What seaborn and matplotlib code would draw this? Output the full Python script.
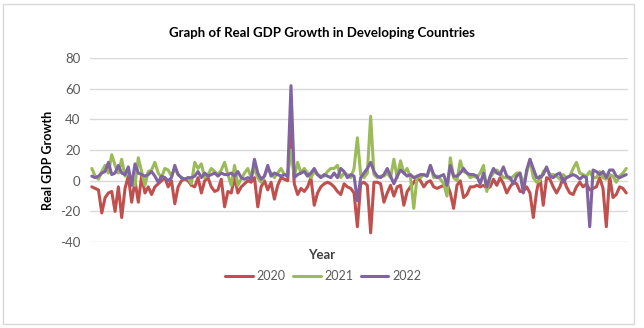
import numpy as np
import pandas as pd
import matplotlib
matplotlib.use("Agg")
import matplotlib.pyplot as plt
import seaborn as sns
from matplotlib.patches import Rectangle

years = ["2020", "2021", "2022"]
colors = ["#C0504D", "#9BBB59", "#8064A2"]
yticks = [-40, -20, 0, 20, 40, 60, 80]

gdp_2020 = [
    -4, -5, -6, -21, -11, -8, -7, -20, -4, -24,
    -5, 3, -14, 0, -14, 3, -8, -4, -9, -4,
    -2, 0, 2, -4, 0, -15, -4, 0, 1, 0,
    -3, -4, 2, -8, 0, 2, -4, -7, -6, 1,
    -17, -7, -8, 2, -8, -4, -2, 0, -1, 2,
    -17, -4, 0, -6, -1, -12, -3, 2, 1, 0,
    33, -2, -9, -5, -7, -4, 2, -16, -8, -4,
    -2, -1, -2, -4, -7, -9, -2, -4, -5, -8,
    -30, -2, -1, -3, -34, -1, -1, -2, -14, -8,
    -3, -10, -4, -3, -16, -7, -4, -1, 2, 0,
    -4, -1, 0, -4, -5,
    -4, -3, -2, -8, -18, -3, 0, -11, -9, -4,
    -4, -3, -4, -3, -5, -4, 1, -3, 2, -2,
    -8, -4, -1, -2, -7, -7, -4, -8, -24, -7,
    3, -16, 2, 1, -4, -8, -4, 2, -4, -8,
    -9, -4, -1, -4, -2, -6, -5, -4, 2, -5,
    -30, 3, -11, -9, -4, -5, -8,
]
gdp_2021 = [
    8, 3, 1, 6, 10, 5, 17, 10, 5, 14,
    3, 6, 0, -3, 15, 6, -3, 6, 7, 12,
    5, 2, 8, 7, 3, 8, 4, 2, 1, 2,
    -2, 12, 8, 11, 2, 4, 8, 6, 4, 7,
    12, 4, -3, 10, -3, 1, 5, 8, 2, 8,
    2, -1, 3, 8, 5, 2, 5, 8, 4, 4,
    20, 3, 12, 5, 8, 5, 2, 6, 4, 3,
    3, 6, 8, 8, 10, 2, 5, 4, 2, 8,
    28, 4, 2, 5, 42, 4, 2, 3, 3, 5,
    2, 14, 2, 13, 5, 8, 2, -18, 3, 2,
    4, 3, 10, 2, 3,
    1, -2, -10, 15, 2, 0, 13, 6, 5, 2,
    3, 2, 5, 10, -7, 2, 5, 7, 5, 2,
    2, 1, 3, 5, 5, -2, 5, 14, 2, -1,
    0, 6, 8, 4, 4, 3, 1, 4, 2, 3,
    8, 12, 5, 4, 3, 6, 2, 2, 6, 2,
    1, 4, 3, -1, 3, 5, 8,
]
gdp_2022 = [
    3, 2, 3, 5, 6, 12, 4, 5, 10, 5,
    4, 9, -3, 11, 5, 4, 3, 4, 6, 3,
    -1, 3, 2, 0, 2, 10, 4, 2, 1, 2,
    2, 3, 6, 2, 5, 3, 4, 5, 3, 5,
    4, 4, 5, 3, 6, 2, 1, 2, 1, 14,
    5, 1, 3, 10, 3, 5, 4, 3, 4, 3,
    62, 2, 4, 5, 6, 3, 5, 8, 4, 2,
    4, 3, 2, 5, 2, 8, 6, 2, 4, 3,
    -13, 2, 5, 8, 12, 6, 3, 2, 4, 8,
    3, -2, 3, 7, 5, 3, 4, 2, 3, 4,
    4, 3, 10, 4, 2,
    3, 4, -3, 10, 3, 3, 5, 8, 5, 4,
    4, 3, -2, 5, -4, 3, 8, 5, 4, 9,
    3, 2, -2, 3, 5, -8, 7, 14, 8, 2,
    2, 4, 9, 3, 2, 4, 5, -1, 2, 3,
    4, 3, 1, 3, 2, -30, 7, 6, 4, 6,
    2, 7, 7, 3, 2, 3, 4,
]

n = min(len(gdp_2020), len(gdp_2021), len(gdp_2022))
series = {"2020": gdp_2020[:n], "2021": gdp_2021[:n], "2022": gdp_2022[:n]}
df = pd.concat(
    [pd.DataFrame({"idx": np.arange(n), "value": v, "Year": k}) for k, v in series.items()],
    ignore_index=True,
)

sns.set_theme(style="white")
plt.rcParams["font.family"] = ["Lato", "DejaVu Sans"]

fig = plt.figure(figsize=(6.44, 3.28), dpi=100)
ax = fig.add_axes([0.140, 0.262, 0.835, 0.561])

sns.lineplot(data=df, x="idx", y="value", hue="Year", hue_order=years,
             palette=colors, linewidth=2.2, ax=ax, legend=True)

ax.set_xlim(-0.5, n - 0.5)
ax.set_ylim(-40, 80)
ax.set_yticks(yticks)
ax.set_yticklabels([str(t) for t in yticks], fontsize=9.5, color="#595959")
ax.set_xticks([])
ax.grid(axis="y", color="#D9D9D9", linewidth=1)
ax.set_axisbelow(True)
for s in ax.spines.values():
    s.set_visible(False)
ax.tick_params(axis="y", length=0, pad=7)

ax.set_xlabel("Year", fontsize=9.5, fontweight="bold", color="#404040")
ax.xaxis.set_label_coords(0.431, -0.04, transform=ax.transAxes)
ax.xaxis.label.set_va("top")
ax.set_ylabel("Real GDP Growth", fontsize=9, fontweight="bold", color="#000000")
ax.yaxis.set_label_coords(-0.078, 0.446, transform=ax.transAxes)
ax.yaxis.label.set_va("center")

fig.text(0.5, 0.898, "Graph of Real GDP Growth in Developing Countries",
         ha="center", va="center", fontsize=9.5, fontweight="bold", color="#000000")

handles, labels = ax.get_legend_handles_labels()
ax.legend_.remove()
fig.legend(handles, labels, loc="center", bbox_to_anchor=(0.502, 0.158), ncol=3,
           frameon=False, fontsize=9, handlelength=2.2, columnspacing=0.6,
           handletextpad=0.3, labelcolor="#595959")

fig.patches.append(Rectangle((0.005, 0.012), 0.98, 0.976, transform=fig.transFigure,
                             fill=False, edgecolor="#D9D9D9", linewidth=1))

fig.savefig("out.png", dpi=100)
